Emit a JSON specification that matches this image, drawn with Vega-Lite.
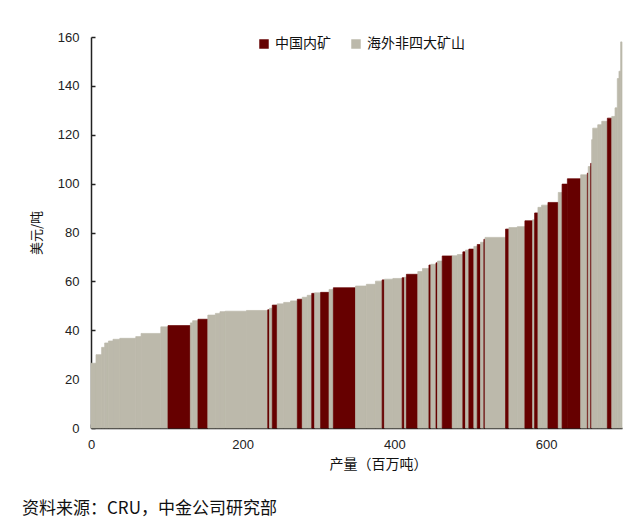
{
  "$schema": "https://vega.github.io/schema/vega-lite/v6.json",
  "width": 531,
  "height": 391,
  "autosize": "none",
  "padding": {"left": 91, "top": 37, "right": 18, "bottom": 102},
  "background": "white",
  "config": {
    "view": {"stroke": null},
    "font": "Liberation Sans, Noto Sans CJK SC",
    "axis": {"labelFont": "Liberation Sans", "titleFont": "Noto Sans CJK SC", "labelColor": "#222", "titleColor": "#111", "domainColor": "#222", "tickColor": "#222", "grid": false}
  },
  "title": {
    "text": "资料来源：CRU，中金公司研究部",
    "orient": "bottom",
    "anchor": "start",
    "frame": "group",
    "dx": -69,
    "offset": 30,
    "font": "Noto Sans CJK SC",
    "fontSize": 17,
    "fontWeight": "normal",
    "color": "#111"
  },
  "data": {
    "values": [
      {"x0": 0, "x1": 6.6, "cost": 26.5, "type": "海外非四大矿山"},
      {"x0": 6.6, "x1": 14, "cost": 30, "type": "海外非四大矿山"},
      {"x0": 14, "x1": 18, "cost": 33, "type": "海外非四大矿山"},
      {"x0": 18, "x1": 23, "cost": 34.8, "type": "海外非四大矿山"},
      {"x0": 23, "x1": 29, "cost": 35.6, "type": "海外非四大矿山"},
      {"x0": 29, "x1": 38, "cost": 36.3, "type": "海外非四大矿山"},
      {"x0": 38, "x1": 59, "cost": 36.7, "type": "海外非四大矿山"},
      {"x0": 59, "x1": 66, "cost": 37.4, "type": "海外非四大矿山"},
      {"x0": 66, "x1": 92, "cost": 38.7, "type": "海外非四大矿山"},
      {"x0": 92, "x1": 101.5, "cost": 41.4, "type": "海外非四大矿山"},
      {"x0": 101.5, "x1": 131, "cost": 41.9, "type": "中国内矿"},
      {"x0": 131, "x1": 134, "cost": 43, "type": "海外非四大矿山"},
      {"x0": 134, "x1": 141, "cost": 43.9, "type": "海外非四大矿山"},
      {"x0": 141, "x1": 154, "cost": 44.5, "type": "中国内矿"},
      {"x0": 154, "x1": 164, "cost": 46.2, "type": "海外非四大矿山"},
      {"x0": 164, "x1": 170, "cost": 46.9, "type": "海外非四大矿山"},
      {"x0": 170, "x1": 177, "cost": 47.6, "type": "海外非四大矿山"},
      {"x0": 177, "x1": 205, "cost": 47.8, "type": "海外非四大矿山"},
      {"x0": 205, "x1": 233, "cost": 48.1, "type": "海外非四大矿山"},
      {"x0": 233, "x1": 235.3, "cost": 48.4, "type": "中国内矿"},
      {"x0": 235.3, "x1": 239, "cost": 49, "type": "海外非四大矿山"},
      {"x0": 239, "x1": 245.5, "cost": 50.3, "type": "中国内矿"},
      {"x0": 245.5, "x1": 254, "cost": 50.8, "type": "海外非四大矿山"},
      {"x0": 254, "x1": 263, "cost": 51.4, "type": "海外非四大矿山"},
      {"x0": 263, "x1": 272, "cost": 52, "type": "海外非四大矿山"},
      {"x0": 272, "x1": 278.5, "cost": 52.7, "type": "中国内矿"},
      {"x0": 278.5, "x1": 285, "cost": 53.5, "type": "海外非四大矿山"},
      {"x0": 285, "x1": 291, "cost": 54.3, "type": "海外非四大矿山"},
      {"x0": 291, "x1": 294.8, "cost": 55.1, "type": "中国内矿"},
      {"x0": 294.8, "x1": 302.7, "cost": 55.3, "type": "海外非四大矿山"},
      {"x0": 302.7, "x1": 313.8, "cost": 55.5, "type": "中国内矿"},
      {"x0": 313.8, "x1": 319.5, "cost": 56.7, "type": "海外非四大矿山"},
      {"x0": 319.5, "x1": 348.7, "cost": 57.4, "type": "中国内矿"},
      {"x0": 348.7, "x1": 363, "cost": 58.1, "type": "海外非四大矿山"},
      {"x0": 363, "x1": 375, "cost": 58.8, "type": "海外非四大矿山"},
      {"x0": 375, "x1": 383.8, "cost": 60.1, "type": "海外非四大矿山"},
      {"x0": 383.8, "x1": 386.8, "cost": 60.6, "type": "中国内矿"},
      {"x0": 386.8, "x1": 398, "cost": 60.9, "type": "海外非四大矿山"},
      {"x0": 398, "x1": 410.2, "cost": 61.2, "type": "海外非四大矿山"},
      {"x0": 410.2, "x1": 413.2, "cost": 61.5, "type": "中国内矿"},
      {"x0": 413.2, "x1": 415.8, "cost": 61.7, "type": "海外非四大矿山"},
      {"x0": 415.8, "x1": 430.8, "cost": 62.9, "type": "中国内矿"},
      {"x0": 430.8, "x1": 437, "cost": 64, "type": "海外非四大矿山"},
      {"x0": 437, "x1": 445.5, "cost": 65.3, "type": "海外非四大矿山"},
      {"x0": 445.5, "x1": 448, "cost": 66.7, "type": "中国内矿"},
      {"x0": 448, "x1": 454.8, "cost": 67, "type": "海外非四大矿山"},
      {"x0": 454.8, "x1": 456.8, "cost": 67.6, "type": "中国内矿"},
      {"x0": 456.8, "x1": 463, "cost": 68.3, "type": "海外非四大矿山"},
      {"x0": 463, "x1": 476.2, "cost": 70.4, "type": "中国内矿"},
      {"x0": 476.2, "x1": 483, "cost": 70.5, "type": "海外非四大矿山"},
      {"x0": 483, "x1": 490.2, "cost": 71, "type": "海外非四大矿山"},
      {"x0": 490.2, "x1": 493.7, "cost": 72.1, "type": "中国内矿"},
      {"x0": 493.7, "x1": 498.1, "cost": 72.8, "type": "海外非四大矿山"},
      {"x0": 498.1, "x1": 504.7, "cost": 73.2, "type": "中国内矿"},
      {"x0": 504.7, "x1": 509.2, "cost": 74.3, "type": "海外非四大矿山"},
      {"x0": 509.2, "x1": 513.5, "cost": 75.1, "type": "中国内矿"},
      {"x0": 513.5, "x1": 517.9, "cost": 76, "type": "海外非四大矿山"},
      {"x0": 517.9, "x1": 519.5, "cost": 77.2, "type": "中国内矿"},
      {"x0": 519.5, "x1": 546.5, "cost": 78, "type": "海外非四大矿山"},
      {"x0": 546.5, "x1": 550.9, "cost": 81.4, "type": "中国内矿"},
      {"x0": 550.9, "x1": 562, "cost": 82, "type": "海外非四大矿山"},
      {"x0": 562, "x1": 572, "cost": 82.4, "type": "海外非四大矿山"},
      {"x0": 572, "x1": 582.2, "cost": 84.8, "type": "中国内矿"},
      {"x0": 582.2, "x1": 584.8, "cost": 85.2, "type": "海外非四大矿山"},
      {"x0": 584.8, "x1": 589.2, "cost": 88, "type": "中国内矿"},
      {"x0": 589.2, "x1": 594, "cost": 90.3, "type": "海外非四大矿山"},
      {"x0": 594, "x1": 602.4, "cost": 91.2, "type": "海外非四大矿山"},
      {"x0": 602.4, "x1": 616, "cost": 92.3, "type": "中国内矿"},
      {"x0": 616, "x1": 621, "cost": 96.4, "type": "海外非四大矿山"},
      {"x0": 621, "x1": 628, "cost": 99.8, "type": "中国内矿"},
      {"x0": 628, "x1": 645.5, "cost": 102, "type": "中国内矿"},
      {"x0": 645.5, "x1": 654.3, "cost": 103.6, "type": "海外非四大矿山"},
      {"x0": 654.3, "x1": 655.5, "cost": 104.3, "type": "中国内矿"},
      {"x0": 655.5, "x1": 658.7, "cost": 107, "type": "海外非四大矿山"},
      {"x0": 658.7, "x1": 660, "cost": 108.3, "type": "中国内矿"},
      {"x0": 660, "x1": 661.4, "cost": 118, "type": "海外非四大矿山"},
      {"x0": 661.4, "x1": 668, "cost": 122.7, "type": "海外非四大矿山"},
      {"x0": 668, "x1": 673.3, "cost": 124.1, "type": "海外非四大矿山"},
      {"x0": 673.3, "x1": 680.7, "cost": 125.5, "type": "海外非四大矿山"},
      {"x0": 680.7, "x1": 686.5, "cost": 126.8, "type": "中国内矿"},
      {"x0": 686.5, "x1": 690.8, "cost": 127.5, "type": "海外非四大矿山"},
      {"x0": 690.8, "x1": 693.8, "cost": 131, "type": "海外非四大矿山"},
      {"x0": 693.8, "x1": 696, "cost": 143, "type": "海外非四大矿山"},
      {"x0": 696, "x1": 698.2, "cost": 146, "type": "海外非四大矿山"},
      {"x0": 698.2, "x1": 700, "cost": 158, "type": "海外非四大矿山"}
    ]
  },
  "mark": {"type": "rect", "strokeWidth": 0.7},
  "encoding": {
    "x": {
      "field": "x0", "type": "quantitative",
      "scale": {"domain": [0, 700], "nice": false},
      "axis": {
        "values": [0, 200, 400, 600],
        "title": "产量（百万吨）",
        "titleFontSize": 14, "titleFontWeight": "normal", "titlePadding": 6,
        "titleX": 287,
        "labelFontSize": 13, "labelPadding": 14,
        "tickSize": -4, "domainWidth": 1.5, "tickWidth": 1.5,
        "labelFlush": false
      }
    },
    "x2": {"field": "x1"},
    "y": {
      "field": "cost", "type": "quantitative",
      "scale": {"domain": [0, 160], "nice": false},
      "axis": {
        "values": [0, 20, 40, 60, 80, 100, 120, 140, 160],
        "title": "美元/吨",
        "titleFontSize": 13, "titleFontWeight": "normal", "titlePadding": 14,
        "labelFontSize": 13, "labelPadding": 16,
        "tickSize": -4, "domainWidth": 1.5, "tickWidth": 1.5,
        "labelFlush": false
      }
    },
    "y2": {"datum": 0},
    "stroke": {
      "field": "type", "type": "nominal",
      "scale": {"domain": ["中国内矿", "海外非四大矿山"], "range": ["#660000", "#BCB9AB"]},
      "legend": null
    },
    "color": {
      "field": "type", "type": "nominal",
      "scale": {"domain": ["中国内矿", "海外非四大矿山"], "range": ["#660000", "#BCB9AB"]},
      "legend": {
        "title": null,
        "orient": "none",
        "direction": "horizontal",
        "legendX": 166,
        "legendY": 0,
        "symbolType": "square",
        "symbolSize": 90,
        "symbolStrokeWidth": 0,
        "labelFont": "Noto Sans CJK SC",
        "labelFontSize": 14,
        "labelColor": "#111",
        "labelOffset": 4,
        "columnPadding": 18
      }
    }
  }
}
